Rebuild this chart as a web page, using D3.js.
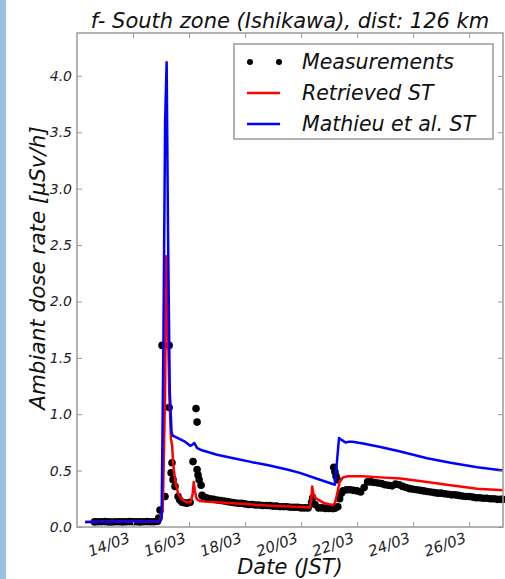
<!DOCTYPE html>
<html>
<head>
<meta charset="utf-8">
<script src="https://cdn.jsdelivr.net/npm/d3@7"></script>
<style>
    body { margin: 0; background: #fff; }
    svg { display: block; font-family: "DejaVu Sans", sans-serif; font-style: italic; }
</style>
</head>
<body>
<svg id="chart" width="505" height="579"></svg>
<script>
// hours since 12/03 00:00 JST, dose rate in µSv/h
const measurements = [
    [15, 0.045], [18, 0.047], [21, 0.046], [24, 0.048], [27, 0.045], [30, 0.044], [33, 0.046],
    [36, 0.047], [39, 0.045], [42, 0.046], [45, 0.048], [48, 0.047], [51, 0.046], [54, 0.045],
    [57, 0.047], [60, 0.048], [63, 0.046], [66, 0.047], [69, 0.05], [70, 0.08],
    [71.1, 0.15], [72.9, 1.61], [75.4, 0.27], [78.9, 1.61], [78.9, 1.06], [80.6, 0.48], [81.4, 0.57],
    [82.3, 0.42], [84, 0.36], [86.6, 0.27], [88, 0.24], [90, 0.22], [92, 0.215], [94.3, 0.21],
    [96.9, 0.22], [99.4, 0.58], [102, 1.05], [102.9, 0.93], [102.9, 0.51], [103.7, 0.46],
    [104.6, 0.42], [106.3, 0.37], [107.1, 0.28],
    [108, 0.27], [111, 0.26], [114, 0.25], [117, 0.245], [120, 0.24], [123, 0.235], [126, 0.23],
    [129, 0.225], [132, 0.22], [135, 0.215], [138, 0.21], [141, 0.21], [144, 0.205], [147, 0.2],
    [150, 0.2], [153, 0.195], [156, 0.195], [159, 0.19], [162, 0.19], [165, 0.19], [168, 0.185],
    [171, 0.185], [174, 0.18], [177, 0.18], [180, 0.18], [183, 0.175], [186, 0.175], [189, 0.175],
    [192, 0.17], [195, 0.17], [198, 0.17], [201, 0.22], [202, 0.26], [204, 0.2], [207, 0.17],
    [210, 0.17], [213, 0.165], [216, 0.165], [219, 0.165],
    [220, 0.53], [221, 0.49], [222, 0.45], [223, 0.42], [219.5, 0.165], [221.5, 0.17], [223.5, 0.18],
    [225, 0.25], [226.5, 0.3], [228, 0.32], [231, 0.33], [234, 0.33], [237, 0.325], [240, 0.32],
    [243, 0.31], [246, 0.35], [249, 0.4], [252, 0.4], [255, 0.395], [258, 0.39], [261, 0.385],
    [264, 0.375], [267, 0.37], [270, 0.365], [273, 0.38], [276, 0.375], [279, 0.36], [282, 0.35],
    [285, 0.34], [288, 0.335], [291, 0.33], [294, 0.325], [297, 0.32], [300, 0.315], [303, 0.31],
    [306, 0.305], [309, 0.3], [312, 0.3], [315, 0.295], [318, 0.29], [321, 0.285], [324, 0.285],
    [327, 0.28], [330, 0.275], [333, 0.27], [336, 0.27], [339, 0.265], [342, 0.26], [345, 0.26],
    [348, 0.255], [351, 0.255], [354, 0.25], [357, 0.25], [360, 0.245], [363, 0.245], [365, 0.245]
];

const retrieved = [
    [7, 0.045], [71, 0.05], [73.5, 0.15], [75.5, 1.2], [76.5, 2.4], [77.5, 2.0], [79, 1.2],
    [80.5, 0.78], [81.5, 0.72], [82.5, 0.55], [84, 0.42], [86.5, 0.3], [90, 0.24], [94, 0.22],
    [97.5, 0.22], [99.2, 0.3], [100, 0.4], [101, 0.32], [102.5, 0.25], [105, 0.23], [110, 0.225],
    [134, 0.21], [163, 0.19], [191, 0.178], [199.5, 0.172], [200.8, 0.25], [201.5, 0.36],
    [202.5, 0.3], [204, 0.26], [207, 0.24], [212, 0.21], [219, 0.195], [221, 0.21], [223, 0.3],
    [225, 0.4], [228, 0.44], [232, 0.45], [245, 0.45], [260, 0.44], [277, 0.43], [300, 0.4],
    [320, 0.37], [343, 0.34], [365, 0.325]
];

const mathieu = [
    [7, 0.045], [71, 0.05], [72.5, 0.08], [74, 1.6], [75.5, 3.6], [76.8, 4.12], [78, 2.6],
    [79.5, 1.2], [81, 0.84], [82, 0.81], [86, 0.79], [92, 0.76], [97, 0.72], [99, 0.73],
    [100.5, 0.745], [103, 0.7], [107, 0.68], [120, 0.64], [134, 0.61], [150, 0.575], [163, 0.55],
    [180, 0.51], [191, 0.48], [205, 0.43], [221, 0.375], [222.5, 0.55], [224.5, 0.79], [227, 0.77],
    [230, 0.75], [233, 0.755], [236, 0.755], [245, 0.74], [260, 0.71], [277, 0.67], [300, 0.61],
    [320, 0.57], [343, 0.53], [365, 0.5]
];

const yTicks = [0, 0.5, 1, 1.5, 2, 2.5, 3, 3.5, 4];
const xTickDays = [14, 16, 18, 20, 22, 24, 26];
const legendLabels = ["Measurements", "Retrieved ST", "Mathieu et al. ST"];

const t0 = Date.UTC(2011, 2, 12);
const toDate = h => new Date(t0 + h * 36e5);

const frame = { left: 77, right: 503, top: 33, bottom: 527 };

const svg = d3.select("#chart");

svg
    .append("rect")
    .attr("width", 6)
    .attr("height", 579)
    .attr("fill", "#9bbfe2");

const x = d3
    .scaleUtc()
    .domain([toDate(0), toDate(365)])
    .range([frame.left, frame.right]);

const y = d3
    .scaleLinear()
    .domain([0, 4.38])
    .range([frame.bottom, frame.top]);

const xTicks = xTickDays.map(day => new Date(Date.UTC(2011, 2, day)));
const fmt = d3.utcFormat("%d/%m");

const plot = svg.append("g");

plot
    .append("g")
    .selectAll("circle")
    .data(measurements)
    .join("circle")
    .attr("cx", d => x(toDate(d[0])))
    .attr("cy", d => y(d[1]))
    .attr("r", 3.8)
    .attr("fill", "#000");

const line = d3
    .line()
    .x(d => x(toDate(d[0])))
    .y(d => y(d[1]));

plot
    .append("path")
    .datum(retrieved)
    .attr("d", line)
    .attr("fill", "none")
    .attr("stroke", "#f00")
    .attr("stroke-width", 2.5)
    .attr("stroke-linejoin", "round");

plot
    .append("path")
    .datum(mathieu)
    .attr("d", line)
    .attr("fill", "none")
    .attr("stroke", "#00f")
    .attr("stroke-width", 2.5)
    .attr("stroke-linejoin", "round");

// frame and inward ticks on all four sides
const tickColor = "#9a9a9a";

svg
    .append("rect")
    .attr("x", frame.left)
    .attr("y", frame.top)
    .attr("width", frame.right - frame.left)
    .attr("height", frame.bottom - frame.top)
    .attr("fill", "none")
    .attr("stroke", tickColor)
    .attr("stroke-width", 1.5);

svg
    .append("g")
    .attr("transform", `translate(0,${frame.bottom})`)
    .call(d3.axisBottom(x).tickValues(xTicks).tickSize(-5).tickFormat(""))
    .call(g => g.select(".domain").remove())
    .call(g => g.selectAll("line").attr("stroke", tickColor));

svg
    .append("g")
    .attr("transform", `translate(0,${frame.top})`)
    .call(d3.axisTop(x).tickValues(xTicks).tickSize(-5).tickFormat(""))
    .call(g => g.select(".domain").remove())
    .call(g => g.selectAll("line").attr("stroke", tickColor));

svg
    .append("g")
    .attr("transform", `translate(${frame.left},0)`)
    .call(d3.axisLeft(y).tickValues(yTicks).tickSize(-5).tickFormat(""))
    .call(g => g.select(".domain").remove())
    .call(g => g.selectAll("line").attr("stroke", tickColor));

svg
    .append("g")
    .attr("transform", `translate(${frame.right},0)`)
    .call(d3.axisRight(y).tickValues(yTicks).tickSize(-5).tickFormat(""))
    .call(g => g.select(".domain").remove())
    .call(g => g.selectAll("line").attr("stroke", tickColor));

svg
    .append("g")
    .selectAll("text")
    .data(yTicks)
    .join("text")
    .attr("x", frame.left - 5)
    .attr("y", d => y(d))
    .attr("dy", "0.35em")
    .attr("text-anchor", "end")
    .attr("font-size", 14)
    .attr("fill", "#222")
    .text(d3.format(".1f"));

svg
    .append("g")
    .selectAll("text")
    .data(xTicks)
    .join("text")
    .attr("transform", d => `translate(${x(d) - 2},${frame.bottom + 15}) rotate(-20)`)
    .attr("text-anchor", "end")
    .attr("font-size", 15)
    .attr("fill", "#222")
    .text(fmt);

svg
    .append("text")
    .attr("x", (frame.left + frame.right) / 2)
    .attr("y", 28)
    .attr("text-anchor", "middle")
    .attr("font-size", 21)
    .attr("fill", "#111")
    .text("f- South zone (Ishikawa), dist: 126 km");

svg
    .append("text")
    .attr("x", 290)
    .attr("y", 574)
    .attr("text-anchor", "middle")
    .attr("font-size", 21)
    .attr("fill", "#111")
    .text("Date (JST)");

svg
    .append("text")
    .attr("transform", "translate(45,268) rotate(-90)")
    .attr("text-anchor", "middle")
    .attr("font-size", 21.5)
    .attr("fill", "#111")
    .text("Ambiant dose rate [μSv/h]");

// legend
const legend = svg
    .append("g")
    .attr("transform", "translate(234,44)");

legend
    .append("rect")
    .attr("width", 259)
    .attr("height", 95)
    .attr("fill", "#fff")
    .attr("stroke", tickColor)
    .attr("stroke-width", 1.5);

const rows = legend
    .selectAll(".row")
    .data(legendLabels)
    .join("g")
    .attr("class", "row")
    .attr("transform", (d, i) => `translate(0,${18 + i * 31})`);

rows
    .filter((d, i) => i === 0)
    .selectAll("circle")
    .data([16, 45])
    .join("circle")
    .attr("cx", d => d)
    .attr("r", 3)
    .attr("fill", "#000");

rows
    .filter((d, i) => i > 0)
    .append("line")
    .attr("x1", 13)
    .attr("x2", 46)
    .attr("stroke", (d, i) => ["#f00", "#00f"][i])
    .attr("stroke-width", 2.5);

rows
    .append("text")
    .attr("x", 68)
    .attr("dy", "0.35em")
    .attr("font-size", 20.5)
    .attr("fill", "#111")
    .text(d => d);
</script>
</body>
</html>
